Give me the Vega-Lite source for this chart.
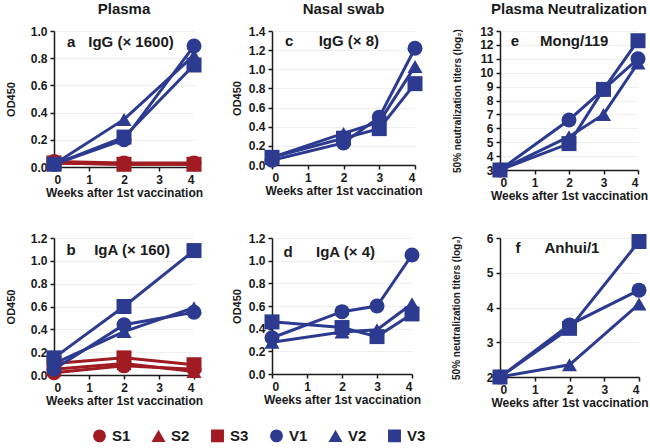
{
  "$schema": "https://vega.github.io/schema/vega-lite/v6.json",
  "padding": {"left": 5, "top": 2, "right": 5, "bottom": 0},
  "background": "white",
  "config": {
    "font": "Liberation Sans",
    "view": {"stroke": null},
    "axis": {
      "labelFont": "Liberation Sans", "labelFontWeight": "bold", "labelFontSize": 12, "labelColor": "#1a1a1a", "labelOverlap": false,
      "titleFont": "Liberation Sans", "titleFontWeight": "bold", "titleFontSize": 12, "titleColor": "#1a1a1a",
      "domainColor": "#1a1a1a", "domainWidth": 1.5, "tickColor": "#1a1a1a", "tickWidth": 1.5, "tickSize": 4,
      "labelPadding": 3, "titlePadding": 4, "gridColor": "#efefef", "gridWidth": 1
    },
    "axisX": {"grid": false, "titlePadding": 2},
    "axisY": {"titlePadding": 14},
    "title": {"font": "Liberation Sans", "fontSize": 15, "fontWeight": "bold", "color": "#1a1a1a", "offset": 8},
    "legend": {"orient": "none", "legendX": 38, "legendY": 397, "direction": "horizontal", "padding": 0,
               "labelFont": "Liberation Sans", "labelFontSize": 15, "labelFontWeight": "bold", "labelColor": "#1a1a1a",
               "symbolSize": 130, "columnPadding": 18, "labelOffset": 5}
  },
  "datasets": {
    "main": [
      {"p": "a", "wk": 0, "grp": "S1", "v": 0.04}, {"p": "a", "wk": 2, "grp": "S1", "v": 0.03}, {"p": "a", "wk": 4, "grp": "S1", "v": 0.03},
      {"p": "a", "wk": 0, "grp": "S2", "v": 0.03}, {"p": "a", "wk": 2, "grp": "S2", "v": 0.02}, {"p": "a", "wk": 4, "grp": "S2", "v": 0.02},
      {"p": "a", "wk": 0, "grp": "S3", "v": 0.03}, {"p": "a", "wk": 2, "grp": "S3", "v": 0.02}, {"p": "a", "wk": 4, "grp": "S3", "v": 0.02},
      {"p": "a", "wk": 0, "grp": "V1", "v": 0.02}, {"p": "a", "wk": 2, "grp": "V1", "v": 0.20}, {"p": "a", "wk": 4, "grp": "V1", "v": 0.89},
      {"p": "a", "wk": 0, "grp": "V2", "v": 0.02}, {"p": "a", "wk": 2, "grp": "V2", "v": 0.35}, {"p": "a", "wk": 4, "grp": "V2", "v": 0.82},
      {"p": "a", "wk": 0, "grp": "V3", "v": 0.02}, {"p": "a", "wk": 2, "grp": "V3", "v": 0.22}, {"p": "a", "wk": 4, "grp": "V3", "v": 0.75},

      {"p": "c", "wk": 0, "grp": "V1", "v": 0.05}, {"p": "c", "wk": 2, "grp": "V1", "v": 0.23}, {"p": "c", "wk": 3, "grp": "V1", "v": 0.50}, {"p": "c", "wk": 4, "grp": "V1", "v": 1.22},
      {"p": "c", "wk": 0, "grp": "V2", "v": 0.08}, {"p": "c", "wk": 2, "grp": "V2", "v": 0.33}, {"p": "c", "wk": 3, "grp": "V2", "v": 0.45}, {"p": "c", "wk": 4, "grp": "V2", "v": 1.03},
      {"p": "c", "wk": 0, "grp": "V3", "v": 0.08}, {"p": "c", "wk": 2, "grp": "V3", "v": 0.28}, {"p": "c", "wk": 3, "grp": "V3", "v": 0.38}, {"p": "c", "wk": 4, "grp": "V3", "v": 0.85},

      {"p": "e", "wk": 0, "grp": "V1", "v": 3}, {"p": "e", "wk": 2, "grp": "V1", "v": 6.6}, {"p": "e", "wk": 3, "grp": "V1", "v": 8.8}, {"p": "e", "wk": 4, "grp": "V1", "v": 11.0},
      {"p": "e", "wk": 0, "grp": "V2", "v": 3}, {"p": "e", "wk": 2, "grp": "V2", "v": 5.4}, {"p": "e", "wk": 3, "grp": "V2", "v": 7.0}, {"p": "e", "wk": 4, "grp": "V2", "v": 10.7},
      {"p": "e", "wk": 0, "grp": "V3", "v": 3}, {"p": "e", "wk": 2, "grp": "V3", "v": 4.9}, {"p": "e", "wk": 3, "grp": "V3", "v": 8.8}, {"p": "e", "wk": 4, "grp": "V3", "v": 12.3},

      {"p": "b", "wk": 0, "grp": "S1", "v": 0.02}, {"p": "b", "wk": 2, "grp": "S1", "v": 0.08}, {"p": "b", "wk": 4, "grp": "S1", "v": 0.05},
      {"p": "b", "wk": 0, "grp": "S2", "v": 0.05}, {"p": "b", "wk": 2, "grp": "S2", "v": 0.10}, {"p": "b", "wk": 4, "grp": "S2", "v": 0.03},
      {"p": "b", "wk": 0, "grp": "S3", "v": 0.10}, {"p": "b", "wk": 2, "grp": "S3", "v": 0.15}, {"p": "b", "wk": 4, "grp": "S3", "v": 0.09},
      {"p": "b", "wk": 0, "grp": "V1", "v": 0.05}, {"p": "b", "wk": 2, "grp": "V1", "v": 0.44}, {"p": "b", "wk": 4, "grp": "V1", "v": 0.55},
      {"p": "b", "wk": 0, "grp": "V2", "v": 0.10}, {"p": "b", "wk": 2, "grp": "V2", "v": 0.38}, {"p": "b", "wk": 4, "grp": "V2", "v": 0.59},
      {"p": "b", "wk": 0, "grp": "V3", "v": 0.15}, {"p": "b", "wk": 2, "grp": "V3", "v": 0.60}, {"p": "b", "wk": 4, "grp": "V3", "v": 1.09},

      {"p": "d", "wk": 0, "grp": "V1", "v": 0.32}, {"p": "d", "wk": 2, "grp": "V1", "v": 0.55}, {"p": "d", "wk": 3, "grp": "V1", "v": 0.60}, {"p": "d", "wk": 4, "grp": "V1", "v": 1.05},
      {"p": "d", "wk": 0, "grp": "V2", "v": 0.28}, {"p": "d", "wk": 2, "grp": "V2", "v": 0.37}, {"p": "d", "wk": 3, "grp": "V2", "v": 0.39}, {"p": "d", "wk": 4, "grp": "V2", "v": 0.62},
      {"p": "d", "wk": 0, "grp": "V3", "v": 0.46}, {"p": "d", "wk": 2, "grp": "V3", "v": 0.41}, {"p": "d", "wk": 3, "grp": "V3", "v": 0.33}, {"p": "d", "wk": 4, "grp": "V3", "v": 0.53},

      {"p": "f", "wk": 0, "grp": "V1", "v": 2}, {"p": "f", "wk": 2, "grp": "V1", "v": 3.5}, {"p": "f", "wk": 4, "grp": "V1", "v": 4.5},
      {"p": "f", "wk": 0, "grp": "V2", "v": 2}, {"p": "f", "wk": 2, "grp": "V2", "v": 2.35}, {"p": "f", "wk": 4, "grp": "V2", "v": 4.1},
      {"p": "f", "wk": 0, "grp": "V3", "v": 2}, {"p": "f", "wk": 2, "grp": "V3", "v": 3.4}, {"p": "f", "wk": 4, "grp": "V3", "v": 5.9}
    ],
    "notes": [
      {"p": "a", "wk": 0.49, "v": 0.92, "t": "a"}, {"p": "a", "wk": 2.2, "v": 0.92, "t": "IgG (× 1600)"},
      {"p": "c", "wk": 0.48, "v": 1.30, "t": "c"}, {"p": "c", "wk": 2.15, "v": 1.30, "t": "IgG (× 8)"},
      {"p": "e", "wk": 0.43, "v": 12.28, "t": "e"}, {"p": "e", "wk": 2.15, "v": 12.28, "t": "Mong/119"},
      {"p": "b", "wk": 0.49, "v": 1.095, "t": "b"}, {"p": "b", "wk": 2.23, "v": 1.095, "t": "IgA (× 160)"},
      {"p": "d", "wk": 0.46, "v": 1.08, "t": "d"}, {"p": "d", "wk": 2.1, "v": 1.08, "t": "IgA (× 4)"},
      {"p": "f", "wk": 0.52, "v": 5.71, "t": "f"}, {"p": "f", "wk": 2.07, "v": 5.71, "t": "Anhui/1"}
    ]
  },
  "columns": 3,
  "align": "each",
  "spacing": {"row": 31, "column": 28},
  "resolve": {"scale": {"color": "shared", "shape": "shared"}, "legend": {"color": "shared", "shape": "shared"}},
  "concat": [
    {
      "title": "Plasma",
      "width": 140, "height": 136,
      "encoding": {
        "x": {"field": "wk", "type": "quantitative", "scale": {"domain": [0, 4]}, "axis": {"values": [0,1,2,3,4], "title": "Weeks after 1st vaccination"}},
        "y": {"field": "v", "type": "quantitative", "scale": {"domain": [0, 1]}, "axis": {"values": [0,0.2,0.4,0.6,0.8,1.0], "format": ".1f", "title": "OD450", "titleFontSize": 11}},
        "color": {"field": "grp", "type": "nominal", "title": null, "scale": {"domain": ["S1","S2","S3","V1","V2","V3"], "range": ["#a01c22","#a01c22","#a01c22","#2c3b8f","#2c3b8f","#2c3b8f"]}}
      },
      "layer": [
        {"data": {"name": "main"}, "transform": [{"filter": "datum.p === 'a'"}], "mark": {"type": "line", "strokeWidth": 3}},
        {"data": {"name": "main"}, "transform": [{"filter": "datum.p === 'a'"}], "mark": {"type": "point", "filled": true, "opacity": 1, "size": 225},
         "encoding": {"shape": {"field": "grp", "type": "nominal", "title": null, "scale": {"domain": ["S1","S2","S3","V1","V2","V3"], "range": ["circle","triangle-up","square","circle","triangle-up","square"]}}}},
        {"data": {"name": "notes"}, "transform": [{"filter": "datum.p === 'a'"}], "mark": {"type": "text", "fontSize": 15, "fontWeight": "bold"},
         "encoding": {"text": {"field": "t"}, "color": {"value": "#1a1a1a"}}}
      ]
    },
    {
      "title": "Nasal swab",
      "width": 143, "height": 134,
      "encoding": {
        "x": {"field": "wk", "type": "quantitative", "scale": {"domain": [0, 4]}, "axis": {"values": [0,1,2,3,4], "title": "Weeks after 1st vaccination"}},
        "y": {"field": "v", "type": "quantitative", "scale": {"domain": [0, 1.4]}, "axis": {"values": [0,0.2,0.4,0.6,0.8,1.0,1.2,1.4], "format": ".1f", "title": "OD450", "titleFontSize": 11, "titlePadding": 6}},
        "color": {"field": "grp", "type": "nominal", "title": null}
      },
      "layer": [
        {"data": {"name": "main"}, "transform": [{"filter": "datum.p === 'c'"}], "mark": {"type": "line", "strokeWidth": 3}},
        {"data": {"name": "main"}, "transform": [{"filter": "datum.p === 'c'"}], "mark": {"type": "point", "filled": true, "opacity": 1, "size": 225},
         "encoding": {"shape": {"field": "grp", "type": "nominal", "title": null}}},
        {"data": {"name": "notes"}, "transform": [{"filter": "datum.p === 'c'"}], "mark": {"type": "text", "fontSize": 15, "fontWeight": "bold"},
         "encoding": {"text": {"field": "t"}, "color": {"value": "#1a1a1a"}}}
      ]
    },
    {
      "title": "Plasma Neutralization",
      "width": 138, "height": 139,
      "encoding": {
        "x": {"field": "wk", "type": "quantitative", "scale": {"domain": [0, 4]}, "axis": {"values": [0,1,2,3,4], "title": "Weeks after 1st vaccination"}},
        "y": {"field": "v", "type": "quantitative", "scale": {"domain": [3, 13]}, "axis": {"values": [3,4,5,6,7,8,9,10,11,12,13], "title": "50% neutralization titers (log₂)", "titleFontSize": 10, "titlePadding": 17}},
        "color": {"field": "grp", "type": "nominal", "title": null}
      },
      "layer": [
        {"data": {"name": "main"}, "transform": [{"filter": "datum.p === 'e'"}], "mark": {"type": "line", "strokeWidth": 3}},
        {"data": {"name": "main"}, "transform": [{"filter": "datum.p === 'e'"}], "mark": {"type": "point", "filled": true, "opacity": 1, "size": 225},
         "encoding": {"shape": {"field": "grp", "type": "nominal", "title": null}}},
        {"data": {"name": "notes"}, "transform": [{"filter": "datum.p === 'e'"}], "mark": {"type": "text", "fontSize": 15, "fontWeight": "bold"},
         "encoding": {"text": {"field": "t"}, "color": {"value": "#1a1a1a"}}}
      ]
    },
    {
      "width": 140, "height": 137,
      "encoding": {
        "x": {"field": "wk", "type": "quantitative", "scale": {"domain": [0, 4]}, "axis": {"values": [0,1,2,3,4], "title": "Weeks after 1st vaccination"}},
        "y": {"field": "v", "type": "quantitative", "scale": {"domain": [0, 1.2]}, "axis": {"values": [0,0.2,0.4,0.6,0.8,1.0,1.2], "format": ".1f", "title": "OD450", "titleFontSize": 11}},
        "color": {"field": "grp", "type": "nominal", "title": null}
      },
      "layer": [
        {"data": {"name": "main"}, "transform": [{"filter": "datum.p === 'b'"}], "mark": {"type": "line", "strokeWidth": 3}},
        {"data": {"name": "main"}, "transform": [{"filter": "datum.p === 'b'"}], "mark": {"type": "point", "filled": true, "opacity": 1, "size": 225},
         "encoding": {"shape": {"field": "grp", "type": "nominal", "title": null}}},
        {"data": {"name": "notes"}, "transform": [{"filter": "datum.p === 'b'"}], "mark": {"type": "text", "fontSize": 15, "fontWeight": "bold"},
         "encoding": {"text": {"field": "t"}, "color": {"value": "#1a1a1a"}}}
      ]
    },
    {
      "width": 140, "height": 136,
      "encoding": {
        "x": {"field": "wk", "type": "quantitative", "scale": {"domain": [0, 4]}, "axis": {"values": [0,1,2,3,4], "title": "Weeks after 1st vaccination"}},
        "y": {"field": "v", "type": "quantitative", "scale": {"domain": [0, 1.2]}, "axis": {"values": [0,0.2,0.4,0.6,0.8,1.0,1.2], "format": ".1f", "title": "OD450", "titleFontSize": 11, "titlePadding": 6}},
        "color": {"field": "grp", "type": "nominal", "title": null}
      },
      "layer": [
        {"data": {"name": "main"}, "transform": [{"filter": "datum.p === 'd'"}], "mark": {"type": "line", "strokeWidth": 3}},
        {"data": {"name": "main"}, "transform": [{"filter": "datum.p === 'd'"}], "mark": {"type": "point", "filled": true, "opacity": 1, "size": 225},
         "encoding": {"shape": {"field": "grp", "type": "nominal", "title": null}}},
        {"data": {"name": "notes"}, "transform": [{"filter": "datum.p === 'd'"}], "mark": {"type": "text", "fontSize": 15, "fontWeight": "bold"},
         "encoding": {"text": {"field": "t"}, "color": {"value": "#1a1a1a"}}}
      ]
    },
    {
      "width": 139, "height": 139,
      "encoding": {
        "x": {"field": "wk", "type": "quantitative", "scale": {"domain": [0, 4]}, "axis": {"values": [0,1,2,3,4], "title": "Weeks after 1st vaccination"}},
        "y": {"field": "v", "type": "quantitative", "scale": {"domain": [2, 6]}, "axis": {"values": [2,3,4,5,6], "title": "50% neutralization titers (log₂)", "titleFontSize": 10, "titlePadding": 25}},
        "color": {"field": "grp", "type": "nominal", "title": null}
      },
      "layer": [
        {"data": {"name": "main"}, "transform": [{"filter": "datum.p === 'f'"}], "mark": {"type": "line", "strokeWidth": 3}},
        {"data": {"name": "main"}, "transform": [{"filter": "datum.p === 'f'"}], "mark": {"type": "point", "filled": true, "opacity": 1, "size": 225},
         "encoding": {"shape": {"field": "grp", "type": "nominal", "title": null}}},
        {"data": {"name": "notes"}, "transform": [{"filter": "datum.p === 'f'"}], "mark": {"type": "text", "fontSize": 15, "fontWeight": "bold"},
         "encoding": {"text": {"field": "t"}, "color": {"value": "#1a1a1a"}}}
      ]
    }
  ]
}
